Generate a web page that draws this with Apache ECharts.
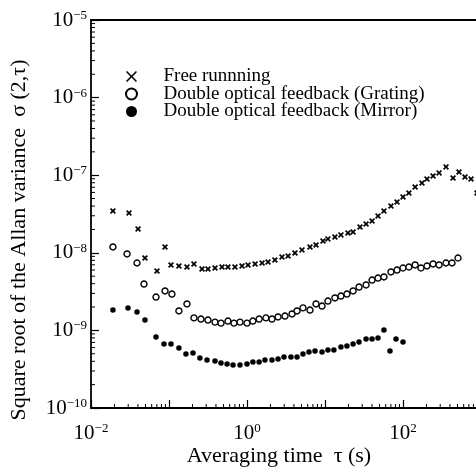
<!DOCTYPE html>
<html><head><meta charset="utf-8">
<script src="https://cdn.jsdelivr.net/npm/echarts@6/dist/echarts.min.js"></script>
<style>html,body{margin:0;padding:0;background:#fff}#c{width:476px;height:474px}</style>
</head><body><div id="c"></div>
<script>
// ---- data ----
const seriesNames = ['Free runnning', 'Double optical feedback (Grating)', 'Double optical feedback (Mirror)'];

const freeTau = [0.0191, 0.0307, 0.0401, 0.0492, 0.0701, 0.0889, 0.106, 0.134, 0.170, 0.209, 0.265, 0.316, 0.389, 0.478, 0.570, 0.701, 0.863, 1.03, 1.27, 1.56, 1.86, 2.28, 2.81, 3.36, 4.12, 5.07, 6.42, 7.67, 9.42, 10.9, 13.4, 16.0, 19.7, 22.9, 28.1, 33.6, 40.1, 47.8, 57.0, 70.1, 83.8, 100, 119, 143, 175, 203, 243, 290, 356, 438, 522, 623, 745, 889];
const freeSigma = [3.46e-8, 3.26e-8, 2.03e-8, 8.57e-9, 5.82e-9, 1.19e-8, 6.97e-9, 6.76e-9, 6.56e-9, 7.18e-9, 6.18e-9, 6.18e-9, 6.37e-9, 6.56e-9, 6.56e-9, 6.56e-9, 6.76e-9, 6.97e-9, 7.18e-9, 7.39e-9, 7.61e-9, 8.07e-9, 8.83e-9, 9.10e-9, 9.94e-9, 1.09e-8, 1.19e-8, 1.26e-8, 1.42e-8, 1.51e-8, 1.60e-8, 1.70e-8, 1.80e-8, 1.85e-8, 2.15e-8, 2.35e-8, 2.57e-8, 2.98e-8, 3.46e-8, 4.01e-8, 4.52e-8, 5.24e-8, 5.90e-8, 7.05e-8, 7.93e-8, 8.93e-8, 9.77e-8, 1.07e-7, 1.28e-7, 9.20e-8, 1.10e-7, 9.48e-8, 8.93e-8, 5.90e-8];

const gratingTau = [0.0191, 0.0290, 0.0389, 0.0478, 0.0681, 0.0889, 0.109, 0.134, 0.170, 0.209, 0.257, 0.316, 0.389, 0.464, 0.570, 0.681, 0.813, 1.0, 1.19, 1.43, 1.75, 2.09, 2.50, 3.07, 3.78, 4.38, 5.22, 6.42, 7.67, 9.16, 10.9, 13.4, 16.0, 19.1, 22.9, 27.3, 33.6, 40.1, 47.8, 57.0, 70.1, 83.8, 100, 119, 143, 170, 203, 243, 290, 356, 425, 507];
const gratingSigma = [1.19e-8, 9.66e-9, 7.39e-9, 3.96e-9, 2.69e-9, 3.22e-9, 2.94e-9, 1.78e-9, 2.19e-9, 1.45e-9, 1.40e-9, 1.36e-9, 1.28e-9, 1.24e-9, 1.32e-9, 1.24e-9, 1.28e-9, 1.24e-9, 1.32e-9, 1.40e-9, 1.45e-9, 1.40e-9, 1.49e-9, 1.53e-9, 1.63e-9, 1.78e-9, 1.95e-9, 1.83e-9, 2.19e-9, 2.06e-9, 2.39e-9, 2.62e-9, 2.77e-9, 2.94e-9, 3.22e-9, 3.62e-9, 3.85e-9, 4.46e-9, 4.73e-9, 4.88e-9, 5.66e-9, 6.00e-9, 6.37e-9, 6.56e-9, 6.97e-9, 6.37e-9, 6.76e-9, 7.18e-9, 6.97e-9, 7.39e-9, 7.39e-9, 8.57e-9];

const mirrorTau = [0.0191, 0.0298, 0.0389, 0.0492, 0.0681, 0.0863, 0.106, 0.134, 0.165, 0.203, 0.249, 0.307, 0.389, 0.464, 0.555, 0.662, 0.813, 1.0, 1.19, 1.43, 1.70, 2.09, 2.50, 2.98, 3.66, 4.38, 5.22, 6.23, 7.45, 9.16, 10.9, 13.0, 16.0, 19.1, 22.9, 27.3, 33.6, 40.1, 47.8, 57.0, 68.1, 81.3, 100];
const mirrorSigma = [1.83e-9, 1.95e-9, 1.73e-9, 1.36e-9, 8.22e-10, 6.68e-10, 6.68e-10, 5.93e-10, 4.97e-10, 5.12e-10, 4.41e-10, 4.16e-10, 4.04e-10, 3.80e-10, 3.69e-10, 3.58e-10, 3.58e-10, 3.69e-10, 3.92e-10, 3.92e-10, 4.16e-10, 4.16e-10, 4.28e-10, 4.54e-10, 4.54e-10, 4.54e-10, 4.97e-10, 5.27e-10, 5.43e-10, 5.27e-10, 5.59e-10, 5.59e-10, 6.11e-10, 6.29e-10, 6.68e-10, 7.09e-10, 7.75e-10, 7.75e-10, 7.98e-10, 1.01e-9, 5.43e-10, 7.75e-10, 7.09e-10];

const xLabelExponents = [-2, 0, 2];
const yLabelExponents = [-10, -9, -8, -7, -6, -5];
const xMinorDecades = [-2, -1, 0, 1, 2];
const yMinorDecades = [-10, -9, -8, -7, -6];
const minorMultipliers = [2, 3, 4, 5, 6, 7, 8, 9];
const xAxisTitle = 'Averaging time  \u03c4 (s)';
const yAxisTitle = 'Square root of the Allan variance  \u03c3 (2,\u03c4)';

// ---- chart ----
const FONT = "'Liberation Serif', 'DejaVu Serif', serif";
const X_MIN = 0.01, X_MAX = 1000, Y_MIN = 1e-10, Y_MAX = 1e-5;
const MINOR_LEN = 4;

const zip = (a, b) => a.map((v, i) => [v, b[i]]);
const minorValues = decades => decades.flatMap(d => minorMultipliers.map(m => m * Math.pow(10, d)));
const expLabel = (v, allowed) => {
  const e = Math.round(Math.log10(v));
  if (!allowed.includes(e)) return '';
  return '{b|10}{s|' + (e < 0 ? '\u2212' : '') + Math.abs(e) + '}';
};
const rich = {
  b: { fontSize: 21, fontFamily: FONT, color: '#000', lineHeight: 22 },
  s: { fontSize: 13, fontFamily: FONT, color: '#000', verticalAlign: 'top', lineHeight: 14 }
};
const crossBold = 'path://M0,2L2,0L5,3L8,0L10,2L7,5L10,8L8,10L5,7L2,10L0,8L3,5Z';
const crossThin = 'path://M0,1L1,0L5,4L9,0L10,1L6,5L10,9L9,10L5,6L1,10L0,9L4,5Z';

// inward minor ticks, placed through the axes' own log scales
const renderMinorX = (params, api) => {
  const p = api.coord([api.value(0), api.value(1)]);
  const cs = params.coordSys;
  const yb = cs.y + cs.height;
  return { type: 'line', silent: true, shape: { x1: p[0], y1: yb, x2: p[0], y2: yb - MINOR_LEN }, style: { stroke: '#000', lineWidth: 1 } };
};
const renderMinorY = (params, api) => {
  const p = api.coord([api.value(0), api.value(1)]);
  const cs = params.coordSys;
  const xl = cs.x;
  return { type: 'line', silent: true, shape: { x1: xl, y1: p[1], x2: xl + MINOR_LEN, y2: p[1] }, style: { stroke: '#000', lineWidth: 1 } };
};

const chart = echarts.init(document.getElementById('c'), null, { renderer: 'canvas' });
chart.setOption({
  backgroundColor: '#fff',
  animation: false,
  grid: { left: 91, top: 20, right: -5, bottom: 66, outerBoundsMode: 'none', containLabel: false },
  xAxis: [{
    type: 'log', logBase: 10, min: X_MIN, max: X_MAX, position: 'bottom',
    axisLine: { show: true, onZero: false, lineStyle: { color: '#000', width: 1.8 } },
    axisTick: { show: true, inside: true, length: 8, lineStyle: { color: '#000', width: 1.2 } },
    minorTick: { show: false },
    splitLine: { show: false }, minorSplitLine: { show: false },
    axisLabel: { margin: 14, formatter: v => expLabel(v, xLabelExponents), rich: rich, showMinLabel: true, showMaxLabel: true }
  }, {
    type: 'log', logBase: 10, min: X_MIN, max: X_MAX, position: 'top',
    axisLine: { show: true, onZero: false, lineStyle: { color: '#000', width: 1.8 } },
    axisTick: { show: false }, axisLabel: { show: false }, splitLine: { show: false }
  }],
  yAxis: {
    type: 'log', logBase: 10, min: Y_MIN, max: Y_MAX,
    axisLine: { show: true, onZero: false, lineStyle: { color: '#000', width: 1.8 } },
    axisTick: { show: true, inside: true, length: 8, lineStyle: { color: '#000', width: 1.2 } },
    minorTick: { show: false },
    splitLine: { show: false }, minorSplitLine: { show: false },
    axisLabel: { margin: 4, formatter: v => expLabel(v, yLabelExponents), rich: rich, showMinLabel: true, showMaxLabel: true }
  },
  legend: {
    orient: 'vertical', left: 120, top: 62,
    itemWidth: 54, itemHeight: 11, itemGap: -1.5,
    textStyle: { fontFamily: FONT, fontSize: 19, color: '#000', lineHeight: 17 },
    data: [
      { name: seriesNames[0], icon: crossThin },
      { name: seriesNames[1], icon: 'circle' },
      { name: seriesNames[2], icon: 'circle' }
    ],
    selectedMode: false
  },
  series: [
    { name: seriesNames[0], type: 'scatter', data: zip(freeTau, freeSigma), symbol: crossBold, symbolSize: 6,
      itemStyle: { color: '#000', opacity: 1 } },
    { name: seriesNames[1], type: 'scatter', data: zip(gratingTau, gratingSigma), symbol: 'circle', symbolSize: 6,
      itemStyle: { color: '#fff', borderColor: '#000', borderWidth: 1.4, opacity: 1 } },
    { name: seriesNames[2], type: 'scatter', data: zip(mirrorTau, mirrorSigma), symbol: 'circle', symbolSize: 5.5,
      itemStyle: { color: '#000', opacity: 1 } },
    { type: 'custom', silent: true, clip: false, tooltip: { show: false },
      data: minorValues(xMinorDecades).map(v => [v, Y_MIN]), renderItem: renderMinorX },
    { type: 'custom', silent: true, clip: false, tooltip: { show: false },
      data: minorValues(yMinorDecades).map(v => [X_MIN, v]), renderItem: renderMinorY }
  ],
  graphic: [
    { type: 'text', x: 279, y: 456, style: { text: xAxisTitle, font: '22px ' + FONT, fill: '#000', align: 'center', verticalAlign: 'middle' } },
    { type: 'text', x: 19, y: 240, rotation: Math.PI / 2, style: { text: yAxisTitle, font: '22px ' + FONT, fill: '#000', align: 'center', verticalAlign: 'middle' } }
  ]
});
</script>
</body></html>
